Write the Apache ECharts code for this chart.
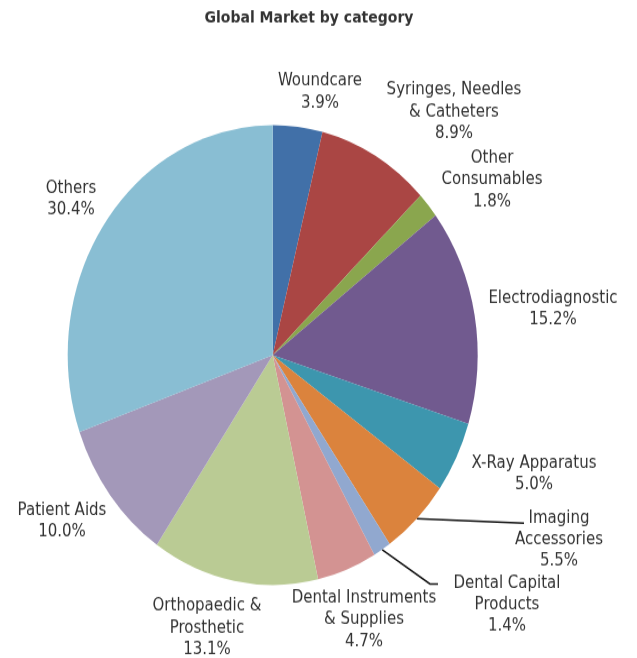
<!DOCTYPE html>
<html>
<head>
<meta charset="utf-8">
<script src="https://cdn.jsdelivr.net/npm/echarts@6/dist/echarts.min.js"></script>
<style>
  html, body { margin: 0; padding: 0; background: #fff; height: 100%; }
  html { overflow: hidden; }
  /* the source picture is stretched vertically, so the chart is too */
  #main { width: 637px; height: 586px; transform: scaleY(1.122); transform-origin: 0 0; }
</style>
</head>
<body>
<div id="main"></div>
<script>
var categories = ['Woundcare', 'Syringes, Needles\n& Catheters', 'Other\nConsumables', 'Electrodiagnostic',
    'X-Ray Apparatus', 'Imaging\nAccessories', 'Dental Capital\nProducts', 'Dental Instruments\n& Supplies',
    'Orthopaedic &\nProsthetic', 'Patient Aids', 'Others'];
var shares = [3.9, 8.9, 1.8, 15.2, 5.0, 5.5, 1.4, 4.7, 13.1, 10.0, 30.4];
var colors = ['#4170A8', '#AA4644', '#8AA64E', '#715A8F', '#3D96AE', '#DB833D',
    '#91A8CF', '#D39392', '#BACB94', '#A398B9', '#89BED3'];

// label centres and leader line bends, measured on the stretched picture
var SY = 1.122;
var labelPos = [[320, 92], [454, 112], [492, 180], [553, 309], [534, 474], [559, 540],
    [507, 605], [364, 620], [207, 628], [62, 521], [71, 199]];
var lineBends = { 5: [[470, 521], [524, 523]], 6: [[430, 584], [438, 584]] };

var myChart = echarts.init(document.getElementById('main'));

var seriesData = [];
for (var i = 0; i < categories.length; i++) {
    seriesData.push({
        name: categories[i],
        value: shares[i],
        itemStyle: { color: colors[i] },
        labelLine: { show: !!lineBends[i] }
    });
}

option = {
    animation: false,
    title: {
        text: 'Global Market by category',
        left: 304,
        top: 4,
        textAlign: 'center',
        textStyle: {
            fontFamily: 'DejaVu Sans',
            fontWeight: 'bold',
            fontSize: 14,
            color: '#333'
        }
    },
    series: [{
        type: 'pie',
        center: [272.7, 316.4],
        radius: 205,
        startAngle: 90,
        clockwise: true,
        silent: true,
        avoidLabelOverlap: false,
        label: {
            show: true,
            position: 'outside',
            formatter: function (p) {
                return p.name + '\n' + p.value.toFixed(1) + '%';
            },
            fontFamily: 'DejaVu Sans',
            fontSize: 15,
            lineHeight: 19.3,
            overflow: 'none',
            color: '#333',
            align: 'center'
        },
        labelLine: {
            lineStyle: { color: '#111', width: 1.5 }
        },
        labelLayout: function (params) {
            var i = params.dataIndex;
            var p = labelPos[i];
            var out = {
                x: p[0],
                y: p[1] / SY,
                align: 'center',
                verticalAlign: 'middle'
            };
            if (lineBends[i] && params.labelLinePoints) {
                var pts = [params.labelLinePoints[0].slice()];
                lineBends[i].forEach(function (b) { pts.push([b[0], b[1] / SY]); });
                out.labelLinePoints = pts;
            }
            return out;
        },
        data: seriesData
    }]
};

myChart.setOption(option, true);
</script>
</body>
</html>
